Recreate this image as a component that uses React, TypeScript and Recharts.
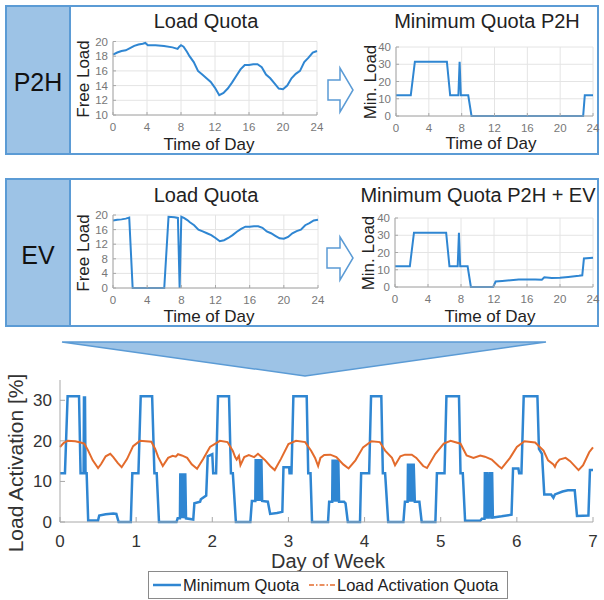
import { CartesianGrid, Line, LineChart, XAxis, YAxis } from "recharts";

const BLUE = "#2f86d2";
const ORANGE = "#e36b2c";
const PANEL_FILL = "#9dc3e6";
const PANEL_EDGE = "#5b9bd5";
const FRAME = "#a8a8a8";

const hourTicks = [0, 4, 8, 12, 16, 20, 24];
const dayTicks = [0, 1, 2, 3, 4, 5, 6, 7];
const freeLoadTicksP2H = [10, 12, 14, 16, 18, 20];
const freeLoadTicksEV = [0, 4, 8, 12, 16, 20];
const minLoadTicks = [0, 10, 20, 30, 40];
const activationTicks = [0, 10, 20, 30];

// [hour, value]
const p2hLoadQuota = [
  [0, 18.2], [0.5, 18.5], [1, 18.7], [1.5, 18.8], [2, 19.1], [2.5, 19.4], [3, 19.6], [3.5, 19.7],
  [3.8, 19.8], [4.1, 19.5], [5, 19.5], [6, 19.4], [7, 19.2], [7.6, 19.0], [7.8, 19.3], [8, 19.5],
  [8.3, 19.3], [8.7, 18.6], [9, 18.0], [9.5, 17.2], [10, 16.0], [10.5, 15.5], [11, 15.0], [11.5, 14.5],
  [12, 13.7], [12.5, 12.7], [13, 13.0], [13.5, 13.6], [14, 14.4], [14.5, 15.3], [15, 16.2], [15.5, 16.8],
  [16, 16.8], [16.5, 16.9], [17, 16.9], [17.5, 16.5], [18, 15.5], [18.5, 15.0], [19, 14.3], [19.5, 13.6],
  [20, 13.5], [20.5, 14.0], [21, 15.0], [21.5, 15.6], [22, 16.0], [22.5, 17.2], [23, 17.8], [23.5, 18.5],
  [24, 18.7],
];

const evLoadQuota = [
  [0, 18.5], [0.5, 18.7], [1, 18.8], [1.5, 19.0], [1.9, 19.3], [2.3, 0], [6.0, 0], [6.5, 19.5],
  [7.2, 19.4], [7.6, 19.2], [7.8, 0], [8.0, 19.5], [8.3, 19.2], [8.7, 18.6], [9, 18.0], [9.5, 17.2],
  [10, 16.0], [10.5, 15.5], [11, 15.0], [11.5, 14.5], [12, 13.7], [12.5, 12.8], [13, 13.1], [13.5, 13.7],
  [14, 14.5], [14.5, 15.4], [15, 16.2], [15.5, 16.8], [16, 16.8], [16.5, 16.9], [17, 16.9], [17.5, 16.5],
  [18, 15.5], [18.5, 15.0], [19, 14.3], [19.5, 13.6], [20, 13.5], [20.5, 14.0], [21, 15.0], [21.5, 15.6],
  [22, 16.0], [22.5, 17.2], [23, 17.8], [23.5, 18.5], [24, 18.7],
];

const p2hMinQuota = [
  [0, 12], [1.8, 12], [2.3, 31.5], [6.2, 31.5], [6.6, 12], [7.6, 12], [7.75, 31.5], [7.9, 12],
  [8.8, 12], [9.2, 0], [22.8, 0], [23.0, 12], [24, 12],
];

const p2hEvMinQuota = [
  [0, 12], [1.8, 12], [2.3, 31.5], [6.2, 31.5], [6.6, 12], [7.6, 12], [7.75, 31.5], [7.9, 12],
  [8.8, 12], [9.2, 0], [11.9, 0], [12.2, 3.2], [13, 3.5], [15, 4.3], [17, 4.4], [17.8, 4.2],
  [18.1, 5.6], [19, 5.2], [20, 5.3], [21, 5.8], [22.3, 6.5], [22.7, 6.8], [22.9, 16.5], [24, 17],
];

// [day, value]
const weekMinQuota = [
  [0, 12], [0.065, 12], [0.1, 31], [0.25, 31], [0.27, 12], [0.31, 12], [0.315, 31], [0.322, 12],
  [0.328, 31], [0.335, 12], [0.35, 12], [0.37, 0.4], [0.5, 0.4], [0.515, 1.6], [0.6, 1.9], [0.7, 2.1],
  [0.74, 2.0], [0.77, 0], [0.93, 0], [0.95, 12], [1.03, 12], [1.06, 31], [1.21, 31], [1.24, 12],
  [1.27, 12], [1.3, 0], [1.53, 0], [1.545, 0.9], [1.575, 0.9], [1.58, 12], [1.59, 0.9], [1.6, 12],
  [1.61, 0.9], [1.62, 12], [1.63, 0.9], [1.645, 12], [1.655, 0.9], [1.75, 0.6], [1.765, 4.6], [1.84, 5.0],
  [1.85, 5.6], [1.92, 6.5], [1.94, 16.2], [2.0, 16.7], [2.012, 12], [2.05, 12], [2.075, 31], [2.22, 31],
  [2.245, 12], [2.27, 12], [2.31, 0], [2.5, 0], [2.52, 5.2], [2.565, 5.2], [2.57, 15.5], [2.585, 5.2],
  [2.595, 15.5], [2.61, 5.2], [2.62, 15.5], [2.635, 5.2], [2.645, 15.5], [2.655, 5.2], [2.73, 5.0], [2.76, 2.0],
  [2.85, 2.2], [2.92, 2.5], [2.935, 13.5], [3.01, 13.5], [3.015, 12], [3.04, 12], [3.065, 31], [3.24, 31],
  [3.26, 12], [3.29, 12], [3.31, 0], [3.52, 0], [3.535, 5.0], [3.575, 5.0], [3.58, 15.4], [3.595, 5],
  [3.605, 15.4], [3.62, 5], [3.63, 15.4], [3.645, 5], [3.655, 15.4], [3.665, 5], [3.73, 5.0], [3.75, 4.6],
  [3.78, 0], [3.94, 0], [3.955, 12], [4.06, 12], [4.085, 31], [4.22, 31], [4.24, 12], [4.27, 12],
  [4.31, 0], [4.51, 0], [4.53, 5.0], [4.565, 5.0], [4.57, 14.4], [4.585, 5], [4.595, 14.4], [4.61, 5],
  [4.62, 14.4], [4.635, 5], [4.645, 14.4], [4.66, 5], [4.72, 5.0], [4.75, 0], [4.93, 0], [4.95, 12],
  [5.05, 12], [5.075, 31], [5.24, 31], [5.26, 12], [5.29, 12], [5.32, 0.3], [5.52, 0.3], [5.54, 0.8],
  [5.575, 0.8], [5.58, 12.3], [5.6, 0.8], [5.61, 12.3], [5.63, 0.8], [5.645, 12.3], [5.665, 0.8], [5.675, 12.3],
  [5.685, 1.1], [5.8, 1.4], [5.93, 1.8], [5.95, 13.2], [6.02, 13.2], [6.03, 12], [6.06, 12], [6.09, 31],
  [6.27, 31], [6.29, 18], [6.33, 16.8], [6.36, 6.8], [6.45, 6.8], [6.48, 6.0], [6.5, 6.8], [6.6, 7.5],
  [6.67, 7.8], [6.76, 7.8], [6.79, 1.5], [6.94, 1.6], [6.96, 12.8], [7, 12.8],
];

const weekActivationQuota = [
  [0, 18.5], [0.05, 19.5], [0.1, 20], [0.2, 19.9], [0.27, 19.6], [0.32, 19.3], [0.37, 17.6], [0.43, 15.2],
  [0.5, 13.3], [0.54, 14.3], [0.6, 16.2], [0.66, 16.8], [0.7, 16], [0.76, 14.5], [0.81, 13.5], [0.88, 15.5],
  [0.96, 18.7], [1.05, 20], [1.2, 19.8], [1.25, 18], [1.29, 16], [1.35, 13.8], [1.42, 15.8], [1.48, 16.3],
  [1.52, 16.1], [1.55, 16.7], [1.6, 16.4], [1.67, 15.8], [1.73, 14.2], [1.8, 13.1], [1.88, 15.5], [1.97, 18.5],
  [2.1, 20], [2.2, 19.7], [2.27, 17.5], [2.3, 16], [2.32, 15.4], [2.35, 16.3], [2.37, 14], [2.42, 16],
  [2.48, 16.5], [2.55, 16], [2.6, 16.8], [2.69, 15.3], [2.76, 13.8], [2.82, 12.8], [2.9, 15.5], [3.0, 19.2],
  [3.1, 20], [3.22, 19.7], [3.3, 17.5], [3.35, 15.8], [3.39, 13.8], [3.42, 15.8], [3.47, 16.5], [3.55, 16.6],
  [3.63, 16.0], [3.72, 14.2], [3.79, 13.2], [3.88, 15.2], [3.98, 18.4], [4.09, 19.9], [4.2, 19.7], [4.27, 17.6],
  [4.36, 15.8], [4.4, 14], [4.47, 16.2], [4.53, 16.6], [4.62, 16.6], [4.68, 15.8], [4.77, 13.8], [4.82, 13.3],
  [4.93, 16.8], [5.04, 19.3], [5.13, 20], [5.26, 19.3], [5.34, 16.4], [5.43, 15.8], [5.52, 16.4], [5.58, 16.1],
  [5.67, 15.4], [5.76, 13.8], [5.8, 13.2], [5.91, 15.8], [6.0, 18.5], [6.1, 19.9], [6.24, 19.6], [6.35, 17.6],
  [6.41, 15.2], [6.48, 14.2], [6.5, 13.6], [6.52, 14.5], [6.56, 15.4], [6.64, 15.8], [6.7, 15.0], [6.81, 12.8],
  [6.87, 14], [6.95, 17.2], [7.0, 18.4],
];

const toPoints = (rows: number[][]) => rows.map(([x, y]) => ({ x, y }));

type QuotaChartProps = {
  left: number;
  top: number;
  plotRight: number;
  height: number;
  marginTop: number;
  rows: number[][];
  yDomain: [number, number];
  yTicks: number[];
};

// small MATLAB-style panel: y axis is 33px wide, 10px spare on the right for the "24" label
function QuotaChart({ left, top, plotRight, height, marginTop, rows, yDomain, yTicks }: QuotaChartProps) {
  const frame = { stroke: FRAME };
  return (
    <div style={{ position: "absolute", left, top }}>
      <LineChart width={plotRight - left + 10} height={height} margin={{ top: marginTop, right: 10, bottom: 0, left: 0 }}>
        <CartesianGrid stroke="#e4e4e4" />
        <XAxis type="number" dataKey="x" domain={[0, 24]} ticks={hourTicks} interval={0} height={18}
          tickSize={-3} tickMargin={11} axisLine={frame} tickLine={frame} tick={{ fill: "#777", fontSize: 11.5 }} />
        <XAxis xAxisId="top" orientation="top" type="number" domain={[0, 24]} ticks={hourTicks} height={0}
          tick={false} tickSize={-3} axisLine={frame} tickLine={frame} />
        <YAxis type="number" domain={yDomain} ticks={yTicks} interval={0} width={33}
          tickSize={-3} tickMargin={8} axisLine={frame} tickLine={frame} tick={{ fill: "#777", fontSize: 11.5 }} />
        <YAxis yAxisId="right" orientation="right" type="number" domain={yDomain} ticks={yTicks} width={0}
          tick={false} tickSize={-3} axisLine={frame} tickLine={frame} />
        <Line data={toPoints(rows)} dataKey="y" type="linear" stroke={BLUE} strokeWidth={2} dot={false} isAnimationActive={false} />
      </LineChart>
    </div>
  );
}

function Label({ x, y, size, text, rotate = false, color = "#222" }: { x: number; y: number; size: number; text: string; rotate?: boolean; color?: string }) {
  return (
    <div
      style={{
        position: "absolute",
        left: x,
        top: y,
        fontSize: size,
        color,
        lineHeight: 1,
        whiteSpace: "nowrap",
        transform: `translate(-50%, -50%)${rotate ? " rotate(-90deg)" : ""}`,
      }}
    >
      {text}
    </div>
  );
}

function Panel({ top, height, name }: { top: number; height: number; name: string }) {
  return (
    <>
      <div style={{ position: "absolute", left: 5, top, width: 594, height, border: `2px solid ${PANEL_EDGE}`, boxSizing: "border-box" }} />
      <div style={{ position: "absolute", left: 5, top, width: 66, height, background: PANEL_FILL, border: `2px solid ${PANEL_EDGE}`, boxSizing: "border-box" }} />
      <Label x={38} y={top + height / 2 + 2} size={25} text={name} color="#111" />
    </>
  );
}

export default function App() {
  const frame = { stroke: FRAME };
  return (
    <div style={{ position: "absolute", left: 0, top: 0, width: 604, height: 600, background: "#fff", fontFamily: "'Liberation Sans', Arial, sans-serif", overflow: "hidden" }}>
      <Panel top={5} height={150} name="P2H" />
      <Panel top={178} height={149} name="EV" />

      <svg width={604} height={600} style={{ position: "absolute", left: 0, top: 0 }}>
        <polygon points="328,80 340,80 340,68 353,90 340,112 340,100 328,100" fill="#fff" stroke={PANEL_EDGE} strokeWidth={1.5} />
        <polygon points="327,248 340,248 340,237 353,258 340,280 340,268 327,268" fill="#fff" stroke={PANEL_EDGE} strokeWidth={1.5} />
        <polygon points="62,342 546,342 305,376" fill={PANEL_FILL} stroke={PANEL_EDGE} strokeWidth={1.5} />
      </svg>

      <Label x={206} y={21} size={20} text="Load Quota" />
      <Label x={83} y={79} size={17} text="Free Load" rotate />
      <Label x={209} y={144} size={17} text="Time of Day" />
      <QuotaChart left={80} top={36} plotRight={317} height={97} marginTop={5.5} rows={p2hLoadQuota} yDomain={[10, 20]} yTicks={freeLoadTicksP2H} />

      <Label x={487} y={21} size={20} text="Minimum Quota P2H" />
      <Label x={370} y={82} size={17} text="Min. Load" rotate />
      <Label x={491} y={143} size={17} text="Time of Day" />
      <QuotaChart left={363} top={40} plotRight={593} height={94} marginTop={7} rows={p2hMinQuota} yDomain={[0, 40]} yTicks={minLoadTicks} />

      <Label x={206} y={195} size={20} text="Load Quota" />
      <Label x={83} y={253} size={17} text="Free Load" rotate />
      <Label x={209} y={316} size={17} text="Time of Day" />
      <QuotaChart left={80} top={209} plotRight={318} height={97} marginTop={6} rows={evLoadQuota} yDomain={[0, 20]} yTicks={freeLoadTicksEV} />

      <Label x={478} y={195} size={20} text="Minimum Quota P2H + EV" />
      <Label x={368} y={253} size={17} text="Min. Load" rotate />
      <Label x={490} y={316} size={17} text="Time of Day" />
      <QuotaChart left={362} top={212} plotRight={593} height={93} marginTop={6} rows={p2hEvMinQuota} yDomain={[0, 40]} yTicks={minLoadTicks} />

      <div style={{ position: "absolute", left: 0, top: 372 }}>
        <LineChart width={600} height={180} margin={{ top: 8, right: 7, bottom: 0, left: 0 }}>
          <XAxis type="number" dataKey="x" domain={[0, 7]} ticks={dayTicks} interval={0} height={30}
            tickSize={-5} tickMargin={18} axisLine={frame} tickLine={frame} tick={{ fill: "#333", fontSize: 17 }} />
          <XAxis xAxisId="top" orientation="top" type="number" domain={[0, 7]} ticks={dayTicks} height={0}
            tick={false} tickSize={-5} axisLine={frame} tickLine={frame} />
          <YAxis type="number" domain={[0, 35]} ticks={activationTicks} interval={0} width={60}
            tickSize={-5} tickMargin={13} axisLine={frame} tickLine={frame} tick={{ fill: "#333", fontSize: 17 }} />
          <YAxis yAxisId="right" orientation="right" type="number" domain={[0, 35]} ticks={activationTicks} width={0}
            tick={false} tickSize={-5} axisLine={frame} tickLine={frame} />
          <Line data={toPoints(weekMinQuota)} dataKey="y" name="Minimum Quota" type="linear" stroke={BLUE} strokeWidth={2.5} dot={false} isAnimationActive={false} />
          <Line data={toPoints(weekActivationQuota)} dataKey="y" name="Load Activation Quota" type="linear" stroke={ORANGE} strokeWidth={2} dot={false} isAnimationActive={false} />
        </LineChart>
      </div>
      <Label x={15} y={463} size={21} text="Load Activation [%]" rotate color="#333" />
      <Label x={328} y={561} size={20} text="Day of Week" color="#333" />

      <div style={{ position: "absolute", left: 148, top: 571, width: 360, height: 28, border: "1px solid #8a8a8a", boxSizing: "border-box", background: "#fff", fontSize: 16.5, color: "#222" }}>
        <svg width={28} height={26} style={{ position: "absolute", left: 4, top: 0 }}>
          <line x1={0} y1={13} x2={28} y2={13} stroke={BLUE} strokeWidth={2.5} />
        </svg>
        <span style={{ position: "absolute", left: 34, top: 5, lineHeight: 1, whiteSpace: "nowrap" }}>Minimum Quota</span>
        <svg width={26} height={26} style={{ position: "absolute", left: 160, top: 0 }}>
          <line x1={0} y1={13} x2={26} y2={13} stroke={ORANGE} strokeWidth={1.5} strokeDasharray="5 2 1.5 2" />
        </svg>
        <span style={{ position: "absolute", left: 188, top: 5, lineHeight: 1, whiteSpace: "nowrap" }}>Load Activation Quota</span>
      </div>
    </div>
  );
}
